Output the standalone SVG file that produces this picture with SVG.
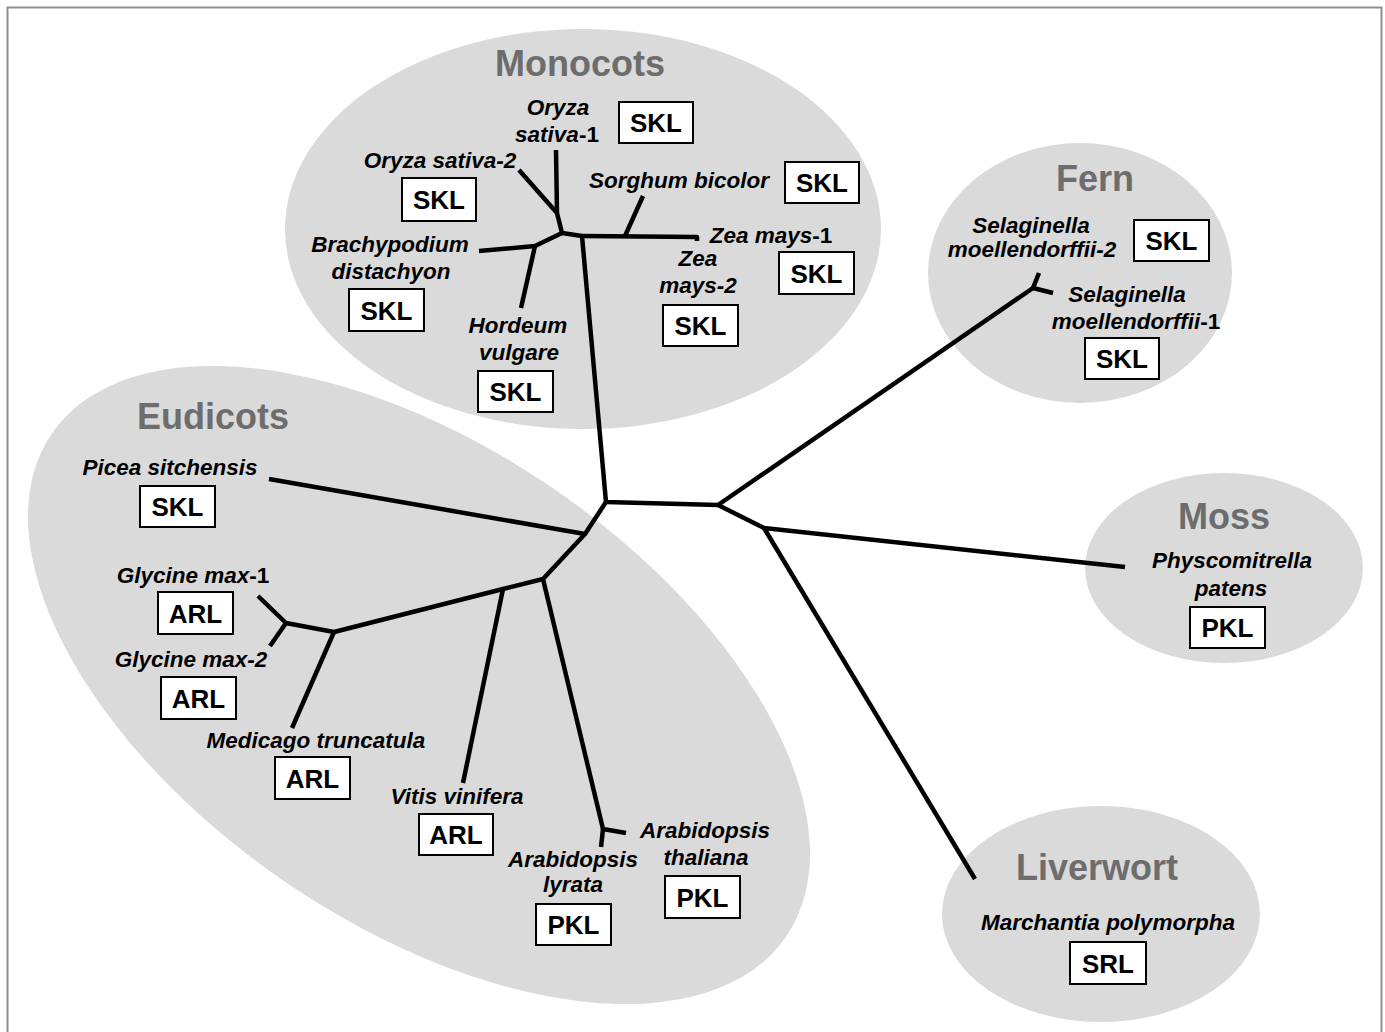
<svg xmlns="http://www.w3.org/2000/svg" width="1385" height="1032" viewBox="0 0 1385 1032">
<style>
.grp{fill:#dadada;stroke:none}
.title{font-family:"Liberation Sans",Arial,sans-serif;font-weight:bold;font-size:36px;fill:#6d6d6d;text-anchor:middle}
.lab{font-family:"Liberation Sans",Arial,sans-serif;font-weight:bold;font-style:italic;font-size:22.5px;fill:#000;text-anchor:middle}
.up{font-style:normal}
.box{fill:#fff;stroke:#000;stroke-width:2}
.bt{font-family:"Liberation Sans",Arial,sans-serif;font-weight:bold;font-size:26px;fill:#000;text-anchor:middle}
.br{fill:none;stroke:#000;stroke-width:4.5;stroke-linejoin:round;stroke-linecap:butt}
</style>
<rect x="0" y="0" width="1385" height="1032" fill="#fff"/>
<rect x="7.5" y="7.5" width="1374" height="1050" fill="none" stroke="#8f8f8f" stroke-width="2"/>

<g id="groups">
<ellipse id="monocots-area" class="grp" cx="583" cy="229" rx="298" ry="200"/>
<ellipse id="fern-area" class="grp" cx="1080" cy="273" rx="152" ry="130"/>
<ellipse id="moss-area" class="grp" cx="1224" cy="568" rx="139" ry="95"/>
<ellipse id="liverwort-area" class="grp" cx="1101" cy="914" rx="159" ry="108"/>
<ellipse id="eudicots-area" class="grp" cx="419" cy="685" rx="445" ry="238" transform="rotate(34.4 419 685)"/>
</g>

<g id="titles">
<text class="title" x="580" y="76">Monocots</text>
<text class="title" x="213" y="429">Eudicots</text>
<text class="title" x="1095" y="191">Fern</text>
<text class="title" x="1224" y="529">Moss</text>
<text class="title" x="1097" y="880">Liverwort</text>
</g>

<g id="connectors">
<path class="br" d="M582,236 L606,502 L718,505"/>
<path class="br" d="M718,505 L1033,288"/>
<path class="br" d="M1039,273 L1033,288 L1053,293"/>
<path class="br" d="M718,505 L764,528 L1125,567"/>
<path class="br" d="M764,528 L975,879"/>
<path class="br" d="M582,236 L697,237 L697,241"/>
<path class="br" d="M625,236 L643,196"/>
<path class="br" d="M582,236 L562,233 L557,213 L556,150"/>
<path class="br" d="M557,213 L519,170"/>
<path class="br" d="M562,233 L535,246 L479,251"/>
<path class="br" d="M535,246 L521,308"/>
<path class="br" d="M606,502 L585,534 L269,479"/>
<path class="br" d="M585,534 L543,579 L503,589 L334,632 L286,623 L258,596"/>
<path class="br" d="M286,623 L270,646"/>
<path class="br" d="M334,632 L292,728"/>
<path class="br" d="M503,589 L463,783"/>
<path class="br" d="M543,579 L603,829 L626,833"/>
<path class="br" d="M603,829 L601,847"/>
</g>

<g id="node-oryza1">
<text class="lab" x="558" y="115">Oryza</text>
<text class="lab" x="557" y="142">sativa<tspan class="up">-1</tspan></text>
<rect class="box" x="619" y="102" width="74" height="41"/><text class="bt" x="656" y="132">SKL</text>
</g>
<g id="node-oryza2">
<text class="lab" x="440" y="168">Oryza sativa-2</text>
<rect class="box" x="402" y="178" width="74" height="43"/><text class="bt" x="439" y="209">SKL</text>
</g>
<g id="node-sorghum">
<text class="lab" x="679" y="188">Sorghum bicolor</text>
<rect class="box" x="785" y="162" width="74" height="41"/><text class="bt" x="822" y="192">SKL</text>
</g>
<g id="node-zea1">
<text class="lab" x="771" y="243">Zea mays<tspan class="up">-1</tspan></text>
<rect class="box" x="779" y="252" width="75" height="42"/><text class="bt" x="816.5" y="283">SKL</text>
</g>
<g id="node-zea2">
<text class="lab" x="698" y="266">Zea</text>
<text class="lab" x="698" y="293">mays-2</text>
<rect class="box" x="663" y="305" width="75" height="41"/><text class="bt" x="700.5" y="335">SKL</text>
</g>
<g id="node-brachypodium">
<text class="lab" x="390" y="252">Brachypodium</text>
<text class="lab" x="391" y="279">distachyon</text>
<rect class="box" x="349" y="289" width="75" height="42"/><text class="bt" x="386.5" y="320">SKL</text>
</g>
<g id="node-hordeum">
<text class="lab" x="518" y="333">Hordeum</text>
<text class="lab" x="519" y="360">vulgare</text>
<rect class="box" x="478" y="371" width="75" height="41"/><text class="bt" x="515.5" y="401">SKL</text>
</g>

<g id="node-selaginella2">
<text class="lab" x="1031" y="233">Selaginella</text>
<text class="lab" x="1032" y="257">moellendorffii-2</text>
<rect class="box" x="1134" y="220" width="75" height="41"/><text class="bt" x="1171.5" y="250">SKL</text>
</g>
<g id="node-selaginella1">
<text class="lab" x="1127" y="302">Selaginella</text>
<text class="lab" x="1136" y="329">moellendorffii<tspan class="up">-1</tspan></text>
<rect class="box" x="1085" y="338" width="74" height="41"/><text class="bt" x="1122" y="368">SKL</text>
</g>

<g id="node-physcomitrella">
<text class="lab" x="1232" y="568">Physcomitrella</text>
<text class="lab" x="1231" y="596">patens</text>
<rect class="box" x="1190" y="607" width="75" height="41"/><text class="bt" x="1227.5" y="637">PKL</text>
</g>

<g id="node-marchantia">
<text class="lab" x="1108" y="930">Marchantia polymorpha</text>
<rect class="box" x="1070" y="942" width="76" height="42"/><text class="bt" x="1108" y="973">SRL</text>
</g>

<g id="node-picea">
<text class="lab" x="170" y="475">Picea sitchensis</text>
<rect class="box" x="140" y="486" width="75" height="41"/><text class="bt" x="177.5" y="516">SKL</text>
</g>
<g id="node-glycine1">
<text class="lab" x="193" y="583">Glycine max<tspan class="up">-1</tspan></text>
<rect class="box" x="158" y="592" width="75" height="42"/><text class="bt" x="195.5" y="623">ARL</text>
</g>
<g id="node-glycine2">
<text class="lab" x="191" y="667">Glycine max-2</text>
<rect class="box" x="161" y="677" width="75" height="42"/><text class="bt" x="198.5" y="708">ARL</text>
</g>
<g id="node-medicago">
<text class="lab" x="316" y="748">Medicago truncatula</text>
<rect class="box" x="275" y="757" width="75" height="42"/><text class="bt" x="312.5" y="788">ARL</text>
</g>
<g id="node-vitis">
<text class="lab" x="457" y="804">Vitis vinifera</text>
<rect class="box" x="419" y="814" width="74" height="41"/><text class="bt" x="456" y="844">ARL</text>
</g>
<g id="node-athaliana">
<text class="lab" x="705" y="838">Arabidopsis</text>
<text class="lab" x="706" y="865">thaliana</text>
<rect class="box" x="665" y="876" width="75" height="42"/><text class="bt" x="702.5" y="907">PKL</text>
</g>
<g id="node-alyrata">
<text class="lab" x="573" y="867">Arabidopsis</text>
<text class="lab" x="573" y="892">lyrata</text>
<rect class="box" x="536" y="904" width="75" height="41"/><text class="bt" x="573.5" y="934">PKL</text>
</g>
</svg>
